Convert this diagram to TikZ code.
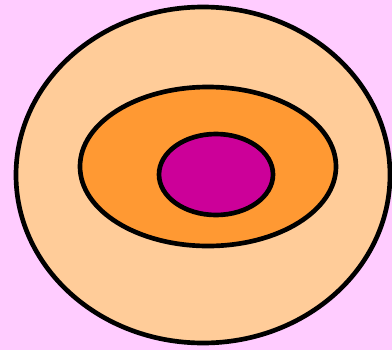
\documentclass[tikz,border=0pt]{standalone}
\usepackage{tikz}

\definecolor{bgpink}{HTML}{FFCCFF}
\definecolor{paleorange}{HTML}{FFCC99}
\definecolor{midorange}{HTML}{FF9933}
\definecolor{coremagenta}{HTML}{CC0099}

\begin{document}
\begin{tikzpicture}[x=0.75pt, y=-0.75pt, line width=3.5pt]
		% Background
		\fill[bgpink] (0,0) rectangle (392,350);
		\useasboundingbox (0,0) rectangle (392,350);

		% Ellipses
		\draw[fill=paleorange] (203,175) ellipse (187 and 168);
		\draw[fill=midorange] (208,166.5) ellipse (128 and 79.5);
		\draw[fill=coremagenta] (216,174.5) ellipse (57 and 40.5);
	\end{tikzpicture}
\end{document}
